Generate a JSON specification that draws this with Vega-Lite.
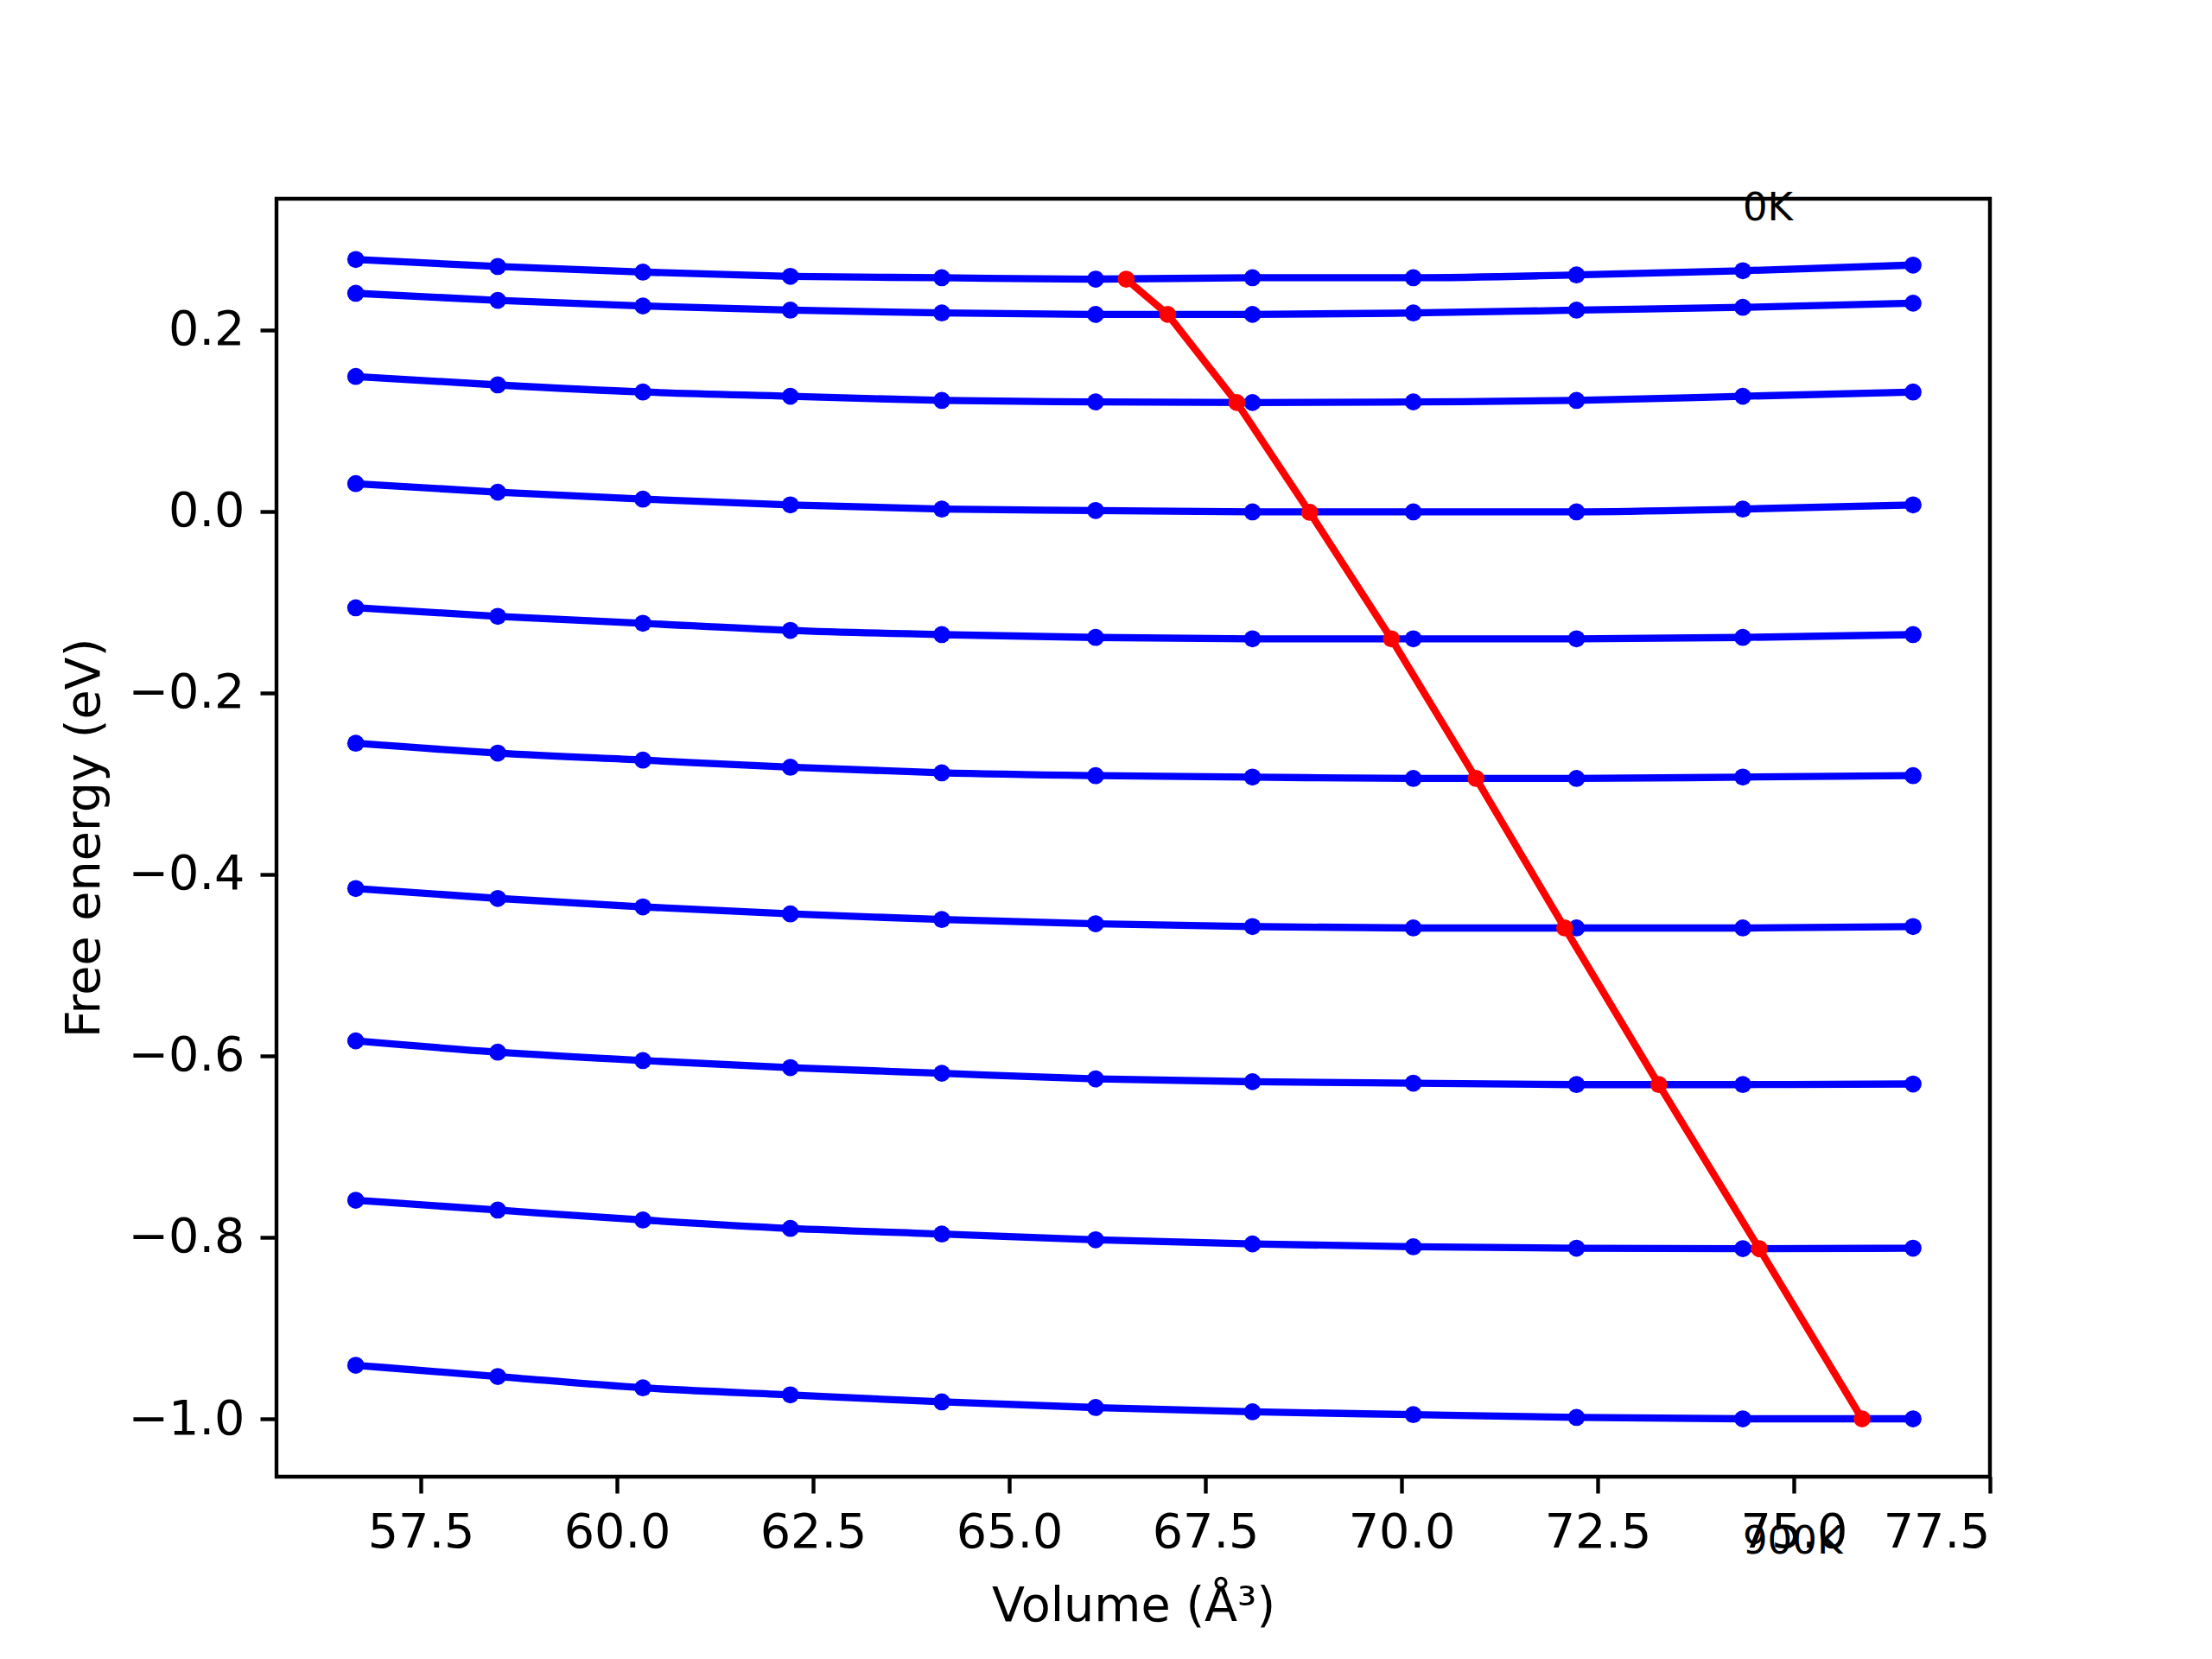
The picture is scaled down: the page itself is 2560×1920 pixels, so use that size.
{
  "$schema": "https://vega.github.io/schema/vega-lite/v6.json",
  "width": 1983,
  "height": 1479,
  "autosize": {"type": "none"},
  "padding": {"left": 320, "top": 230, "right": 257, "bottom": 211},
  "background": "white",
  "config": {
    "font": "DejaVu Sans",
    "view": {"stroke": "black", "strokeWidth": 4.4},
    "axis": {
      "domain": false,
      "grid": false,
      "ticks": true,
      "tickColor": "black",
      "tickWidth": 4.4,
      "tickSize": 19,
      "labelPadding": 18,
      "labelFontSize": 55.6,
      "labelColor": "black",
      "labelFont": "DejaVu Sans",
      "titleFont": "DejaVu Sans",
      "titleFontSize": 55.6,
      "titleFontWeight": "normal",
      "titleColor": "black"
    }
  },
  "datasets": {
    "curves": [
      {"T": 0, "V": 56.67, "F": 0.2777}, {"T": 0, "V": 58.48, "F": 0.2699}, {"T": 0, "V": 60.33, "F": 0.2637}, {"T": 0, "V": 62.21, "F": 0.2591}, {"T": 0, "V": 64.14, "F": 0.2575}, {"T": 0, "V": 66.10, "F": 0.2560}, {"T": 0, "V": 68.10, "F": 0.2575}, {"T": 0, "V": 70.15, "F": 0.2575}, {"T": 0, "V": 72.23, "F": 0.2606}, {"T": 0, "V": 74.35, "F": 0.2653}, {"T": 0, "V": 76.52, "F": 0.2715},
      {"T": 100, "V": 56.67, "F": 0.2404}, {"T": 100, "V": 58.48, "F": 0.2326}, {"T": 100, "V": 60.33, "F": 0.2264}, {"T": 100, "V": 62.21, "F": 0.2218}, {"T": 100, "V": 64.14, "F": 0.2187}, {"T": 100, "V": 66.10, "F": 0.2171}, {"T": 100, "V": 68.10, "F": 0.2171}, {"T": 100, "V": 70.15, "F": 0.2187}, {"T": 100, "V": 72.23, "F": 0.2218}, {"T": 100, "V": 74.35, "F": 0.2249}, {"T": 100, "V": 76.52, "F": 0.2295},
      {"T": 200, "V": 56.67, "F": 0.1487}, {"T": 200, "V": 58.48, "F": 0.1394}, {"T": 200, "V": 60.33, "F": 0.1316}, {"T": 200, "V": 62.21, "F": 0.1269}, {"T": 200, "V": 64.14, "F": 0.1223}, {"T": 200, "V": 66.10, "F": 0.1207}, {"T": 200, "V": 68.10, "F": 0.1200}, {"T": 200, "V": 70.15, "F": 0.1207}, {"T": 200, "V": 72.23, "F": 0.1223}, {"T": 200, "V": 74.35, "F": 0.1269}, {"T": 200, "V": 76.52, "F": 0.1316},
      {"T": 300, "V": 56.67, "F": 0.0306}, {"T": 300, "V": 58.48, "F": 0.0212}, {"T": 300, "V": 60.33, "F": 0.0135}, {"T": 300, "V": 62.21, "F": 0.0072}, {"T": 300, "V": 64.14, "F": 0.0026}, {"T": 300, "V": 66.10, "F": 0.0010}, {"T": 300, "V": 68.10, "F": -0.0005}, {"T": 300, "V": 70.15, "F": -0.0005}, {"T": 300, "V": 72.23, "F": -0.0005}, {"T": 300, "V": 74.35, "F": 0.0026}, {"T": 300, "V": 76.52, "F": 0.0072},
      {"T": 400, "V": 56.67, "F": -0.1062}, {"T": 400, "V": 58.48, "F": -0.1156}, {"T": 400, "V": 60.33, "F": -0.1233}, {"T": 400, "V": 62.21, "F": -0.1311}, {"T": 400, "V": 64.14, "F": -0.1358}, {"T": 400, "V": 66.10, "F": -0.1389}, {"T": 400, "V": 68.10, "F": -0.1404}, {"T": 400, "V": 70.15, "F": -0.1404}, {"T": 400, "V": 72.23, "F": -0.1404}, {"T": 400, "V": 74.35, "F": -0.1389}, {"T": 400, "V": 76.52, "F": -0.1358},
      {"T": 500, "V": 56.67, "F": -0.2555}, {"T": 500, "V": 58.48, "F": -0.2663}, {"T": 500, "V": 60.33, "F": -0.2741}, {"T": 500, "V": 62.21, "F": -0.2819}, {"T": 500, "V": 64.14, "F": -0.2881}, {"T": 500, "V": 66.10, "F": -0.2912}, {"T": 500, "V": 68.10, "F": -0.2928}, {"T": 500, "V": 70.15, "F": -0.2943}, {"T": 500, "V": 72.23, "F": -0.2943}, {"T": 500, "V": 74.35, "F": -0.2928}, {"T": 500, "V": 76.52, "F": -0.2912},
      {"T": 600, "V": 56.67, "F": -0.4156}, {"T": 600, "V": 58.48, "F": -0.4265}, {"T": 600, "V": 60.33, "F": -0.4358}, {"T": 600, "V": 62.21, "F": -0.4436}, {"T": 600, "V": 64.14, "F": -0.4498}, {"T": 600, "V": 66.10, "F": -0.4544}, {"T": 600, "V": 68.10, "F": -0.4575}, {"T": 600, "V": 70.15, "F": -0.4591}, {"T": 600, "V": 72.23, "F": -0.4591}, {"T": 600, "V": 74.35, "F": -0.4591}, {"T": 600, "V": 76.52, "F": -0.4575},
      {"T": 700, "V": 56.67, "F": -0.5835}, {"T": 700, "V": 58.48, "F": -0.5959}, {"T": 700, "V": 60.33, "F": -0.6052}, {"T": 700, "V": 62.21, "F": -0.6130}, {"T": 700, "V": 64.14, "F": -0.6192}, {"T": 700, "V": 66.10, "F": -0.6254}, {"T": 700, "V": 68.10, "F": -0.6285}, {"T": 700, "V": 70.15, "F": -0.6301}, {"T": 700, "V": 72.23, "F": -0.6317}, {"T": 700, "V": 74.35, "F": -0.6317}, {"T": 700, "V": 76.52, "F": -0.6310},
      {"T": 800, "V": 56.67, "F": -0.7591}, {"T": 800, "V": 58.48, "F": -0.7700}, {"T": 800, "V": 60.33, "F": -0.7809}, {"T": 800, "V": 62.21, "F": -0.7902}, {"T": 800, "V": 64.14, "F": -0.7964}, {"T": 800, "V": 66.10, "F": -0.8027}, {"T": 800, "V": 68.10, "F": -0.8073}, {"T": 800, "V": 70.15, "F": -0.8104}, {"T": 800, "V": 72.23, "F": -0.8120}, {"T": 800, "V": 74.35, "F": -0.8125}, {"T": 800, "V": 76.52, "F": -0.8120},
      {"T": 900, "V": 56.67, "F": -0.9410}, {"T": 900, "V": 58.48, "F": -0.9534}, {"T": 900, "V": 60.33, "F": -0.9659}, {"T": 900, "V": 62.21, "F": -0.9736}, {"T": 900, "V": 64.14, "F": -0.9814}, {"T": 900, "V": 66.10, "F": -0.9876}, {"T": 900, "V": 68.10, "F": -0.9923}, {"T": 900, "V": 70.15, "F": -0.9954}, {"T": 900, "V": 72.23, "F": -0.9985}, {"T": 900, "V": 74.35, "F": -1.0000}, {"T": 900, "V": 76.52, "F": -1.0000}
    ],
    "minima": [
      {"T": 0, "V": 66.49, "F": 0.2560},
      {"T": 100, "V": 67.02, "F": 0.2171},
      {"T": 200, "V": 67.90, "F": 0.1200},
      {"T": 300, "V": 68.83, "F": -0.0010},
      {"T": 400, "V": 69.87, "F": -0.1404},
      {"T": 500, "V": 70.95, "F": -0.2943},
      {"T": 600, "V": 72.08, "F": -0.4591},
      {"T": 700, "V": 73.28, "F": -0.6317},
      {"T": 800, "V": 74.56, "F": -0.8125},
      {"T": 900, "V": 75.87, "F": -1.0000}
    ],
    "labels": [
      {"label": "0K", "V": 74.35, "F": 0.321},
      {"label": "900K", "V": 74.35, "F": -1.149}
    ]
  },
  "encoding": {
    "x": {
      "field": "V", "type": "quantitative",
      "scale": {"domain": [55.66, 77.5], "nice": false, "zero": false},
      "axis": {"title": "Volume (Å³)", "values": [57.5, 60, 62.5, 65, 67.5, 70, 72.5, 75, 77.5], "format": ".1f", "titlePadding": 30}
    },
    "y": {
      "field": "F", "type": "quantitative",
      "scale": {"domain": [-1.0638, 0.3446], "nice": false, "zero": false},
      "axis": {"title": "Free energy (eV)", "values": [-1.0, -0.8, -0.6, -0.4, -0.2, 0.0, 0.2], "format": ".1f", "titlePadding": 22}
    }
  },
  "layer": [
    {
      "data": {"name": "curves"},
      "mark": {"type": "line", "color": "#0000ff", "strokeWidth": 8.3, "interpolate": "monotone", "clip": false},
      "encoding": {"detail": {"field": "T", "type": "nominal"}, "order": {"field": "V", "type": "quantitative"}}
    },
    {
      "data": {"name": "curves"},
      "mark": {"type": "point", "filled": true, "color": "#0000ff", "opacity": 1, "size": 390, "shape": "circle"}
    },
    {
      "data": {"name": "minima"},
      "mark": {"type": "line", "color": "#ff0000", "strokeWidth": 8.3},
      "encoding": {"order": {"field": "T", "type": "quantitative"}}
    },
    {
      "data": {"name": "minima"},
      "mark": {"type": "point", "filled": true, "color": "#ff0000", "opacity": 1, "size": 390, "shape": "circle"}
    },
    {
      "data": {"name": "labels"},
      "mark": {"type": "text", "align": "left", "baseline": "alphabetic", "fontSize": 45, "font": "DejaVu Sans", "color": "black", "clip": false},
      "encoding": {"text": {"field": "label", "type": "nominal"}}
    }
  ]
}
